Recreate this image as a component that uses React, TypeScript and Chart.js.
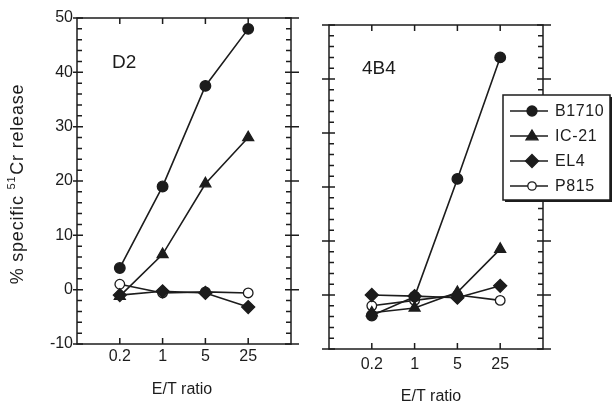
import React, { useEffect, useRef } from "react";
import { Chart, registerables } from "chart.js";

Chart.register(...registerables);

// ---------- data ----------
const categories = ["0.2", "1", "5", "25"];
const seriesNames = ["B1710", "IC-21", "EL4", "P815"];
const yTickValues = [-10, 0, 10, 20, 30, 40, 50];

const d2B1710 = [4, 19, 37.5, 48];
const d2IC21 = [-1.2, 6.5, 19.5, 28];
const d2EL4 = [-1, -0.3, -0.6, -3.2];
const d2P815 = [1, -0.6, -0.4, -0.6];

const b4B1710 = [-3.8, -0.3, 21.5, 44];
const b4IC21 = [-3.3, -2.4, 0.5, 8.5];
const b4EL4 = [0, -0.2, -0.5, 1.7];
const b4P815 = [-2, -1, 0, -1];

const panelNames = ["D2", "4B4"];
const xTitle = "E/T ratio";

// ---------- styles ----------
const INK = "#1c1c1c";
const FONT = "'Liberation Sans', Arial, Helvetica, sans-serif";
const H = 406;
const pointStyles = ["circle", "triangle", "rectRot", "circle"];
const pointRadii = [5.3, 6.3, 6.5, 4.8];
const pointFills = [INK, INK, INK, "#ffffff"];

function makeDatasets(values: number[][]) {
  return values.map((vals, i) => ({
    label: seriesNames[i],
    data: [null, ...vals, null],
    borderColor: INK,
    borderWidth: 1.6,
    pointStyle: pointStyles[i],
    pointRadius: pointRadii[i],
    pointHoverRadius: pointRadii[i],
    pointBackgroundColor: pointFills[i],
    pointBorderColor: INK,
    pointBorderWidth: 1.3,
    tension: 0,
    clip: false,
  }));
}

function drawMarker(ctx: CanvasRenderingContext2D, i: number, x: number, y: number) {
  ctx.save();
  ctx.fillStyle = pointFills[i];
  ctx.strokeStyle = INK;
  ctx.lineWidth = 1.3;
  ctx.beginPath();
  const r = pointRadii[i];
  if (pointStyles[i] === "circle") {
    ctx.arc(x, y, i === 3 ? 4.2 : 5, 0, Math.PI * 2);
  } else if (pointStyles[i] === "triangle") {
    ctx.moveTo(x, y - r * 0.95);
    ctx.lineTo(x + r * 0.95, y + r * 0.6);
    ctx.lineTo(x - r * 0.95, y + r * 0.6);
    ctx.closePath();
  } else {
    ctx.moveTo(x, y - r);
    ctx.lineTo(x + r, y);
    ctx.lineTo(x, y + r);
    ctx.lineTo(x - r, y);
    ctx.closePath();
  }
  ctx.fill();
  ctx.stroke();
  ctx.restore();
}

type Area = { left: number; right: number; top: number; bottom: number };

function framePlugin(showLeftOuter: boolean) {
  return {
    id: "frame",
    afterDraw(chart: any) {
      const { ctx, chartArea: a, scales } = chart;
      const y = scales.y;
      const x = scales.x;
      ctx.save();
      ctx.strokeStyle = INK;
      ctx.lineWidth = 1.5;
      ctx.strokeRect(a.left, a.top, a.right - a.left, a.bottom - a.top);
      ctx.beginPath();
      for (const v of yTickValues) {
        const py = y.getPixelForValue(v);
        ctx.moveTo(a.left - (showLeftOuter ? 4 : 7), py);
        ctx.lineTo(a.left + 6, py);
        ctx.moveTo(a.right - 6, py);
        ctx.lineTo(a.right + 8, py);
      }
      for (let v = -8; v < 50; v += 2) {
        if (v % 10 === 0) continue;
        const py = y.getPixelForValue(v);
        ctx.moveTo(a.left, py);
        ctx.lineTo(a.left + 5, py);
        ctx.moveTo(a.right - 5, py);
        ctx.lineTo(a.right, py);
      }
      for (let i = 1; i <= categories.length; i++) {
        const px = x.getPixelForValue(i);
        ctx.moveTo(px, a.bottom);
        ctx.lineTo(px, a.bottom - 6);
        ctx.moveTo(px, a.top);
        ctx.lineTo(px, a.top + 6);
      }
      ctx.stroke();
      ctx.restore();
    },
  };
}

function textPlugin(opts: {
  panel: string;
  panelX: number;
  panelY: number;
  titleX: number;
  titleY: number;
  yTitle: boolean;
  legend: null | { x: number; y: number; w: number; h: number };
}) {
  return {
    id: "texts",
    afterDraw(chart: any) {
      const ctx: CanvasRenderingContext2D = chart.ctx;
      ctx.save();
      ctx.fillStyle = INK;
      // panel label
      ctx.font = `19px ${FONT}`;
      ctx.textAlign = "left";
      ctx.textBaseline = "middle";
      ctx.fillText(opts.panel, opts.panelX, opts.panelY);
      // x title
      ctx.font = `16px ${FONT}`;
      ctx.textAlign = "center";
      ctx.fillText(xTitle, opts.titleX, opts.titleY);
      // y title
      if (opts.yTitle) {
        ctx.save();
        ctx.translate(18, 184);
        ctx.rotate(-Math.PI / 2);
        ctx.textAlign = "left";
        ctx.textBaseline = "middle";
        (ctx as any).letterSpacing = "0.8px";
        const big = `18px ${FONT}`;
        const small = `11px ${FONT}`;
        const p1 = "% specific ";
        const p2 = "51";
        const p3 = "Cr release";
        ctx.font = big;
        const w1 = ctx.measureText(p1).width;
        const w3 = ctx.measureText(p3).width;
        ctx.font = small;
        const w2 = ctx.measureText(p2).width;
        const total = w1 + w2 + w3 + 1;
        const x0 = -total / 2;
        ctx.font = big;
        ctx.fillText(p1, x0, 0);
        ctx.font = small;
        ctx.fillText(p2, x0 + w1, -6);
        ctx.font = big;
        ctx.fillText(p3, x0 + w1 + w2 + 1, 0);
        ctx.restore();
      }
      // legend
      if (opts.legend) {
        const L = opts.legend;
        ctx.fillStyle = INK;
        ctx.fillRect(L.x + 2, L.y + 2, L.w, L.h);
        ctx.fillStyle = "#ffffff";
        ctx.fillRect(L.x, L.y, L.w, L.h);
        ctx.strokeStyle = INK;
        ctx.lineWidth = 1.5;
        ctx.strokeRect(L.x, L.y, L.w, L.h);
        seriesNames.forEach((name, i) => {
          const ry = L.y + 16 + i * 25;
          ctx.beginPath();
          ctx.moveTo(L.x + 7, ry);
          ctx.lineTo(L.x + 45, ry);
          ctx.lineWidth = 1.5;
          ctx.stroke();
          drawMarker(ctx, i, L.x + 29, ry);
          ctx.fillStyle = INK;
          ctx.font = `16px ${FONT}`;
          ctx.textAlign = "left";
          ctx.textBaseline = "middle";
          (ctx as any).letterSpacing = "0.6px";
          ctx.fillText(name, L.x + 52, ry + 1);
        });
      }
      ctx.restore();
    },
  };
}

function buildConfig(
  values: number[][],
  area: Area,
  canvasW: number,
  showY: boolean,
  xPad: number,
  plugins: any[]
) {
  return {
    type: "line" as const,
    data: {
      labels: ["", ...categories, ""],
      datasets: makeDatasets(values),
    },
    options: {
      responsive: false,
      maintainAspectRatio: false,
      animation: false as const,
      events: [],
      layout: {
        padding: { top: area.top, right: canvasW - area.right, left: 0, bottom: 0 },
      },
      plugins: {
        legend: { display: false },
        tooltip: { enabled: false },
        title: { display: false },
      },
      scales: {
        x: {
          type: "category" as const,
          offset: false,
          grid: { display: false, drawTicks: false },
          border: { display: false },
          ticks: {
            autoSkip: false,
            maxRotation: 0,
            padding: xPad,
            color: INK,
            font: { family: FONT, size: 16 },
          },
          afterFit: (s: any) => {
            s.height = H - area.bottom;
          },
        },
        y: {
          type: "linear" as const,
          min: -10,
          max: 50,
          grid: { display: false, drawTicks: false },
          border: { display: false },
          ticks: {
            display: showY,
            stepSize: 10,
            padding: 4,
            color: INK,
            font: { family: FONT, size: 16 },
          },
          afterFit: (s: any) => {
            s.width = area.left;
          },
        },
      },
    },
    plugins,
  };
}

export default function App() {
  const ref1 = useRef<HTMLCanvasElement>(null);
  const ref2 = useRef<HTMLCanvasElement>(null);

  useEffect(() => {
    const c1 = new Chart(
      ref1.current as HTMLCanvasElement,
      buildConfig(
        [d2B1710, d2IC21, d2EL4, d2P815],
        { left: 77, right: 291, top: 18, bottom: 344 },
        300,
        true,
        3,
        [
          framePlugin(true),
          textPlugin({
            panel: panelNames[0],
            panelX: 112,
            panelY: 63,
            titleX: 182,
            titleY: 390,
            yTitle: true,
            legend: null,
          }),
        ]
      ) as any
    );
    const c2 = new Chart(
      ref2.current as HTMLCanvasElement,
      buildConfig(
        [b4B1710, b4IC21, b4EL4, b4P815],
        { left: 29, right: 243, top: 25, bottom: 349 },
        313,
        false,
        6,
        [
          framePlugin(false),
          textPlugin({
            panel: panelNames[1],
            panelX: 62,
            panelY: 69,
            titleX: 131,
            titleY: 397,
            yTitle: false,
            legend: { x: 203, y: 95, w: 107, h: 105 },
          }),
        ]
      ) as any
    );
    return () => {
      c1.destroy();
      c2.destroy();
    };
  }, []);

  return (
    <div
      style={{
        position: "absolute",
        left: 0,
        top: 0,
        width: 613,
        height: 406,
        background: "#ffffff",
        overflow: "hidden",
      }}
    >
      <canvas
        ref={ref1}
        width={300}
        height={406}
        style={{ position: "absolute", left: 0, top: 0, width: 300, height: 406 }}
      />
      <canvas
        ref={ref2}
        width={313}
        height={406}
        style={{ position: "absolute", left: 300, top: 0, width: 313, height: 406 }}
      />
    </div>
  );
}
